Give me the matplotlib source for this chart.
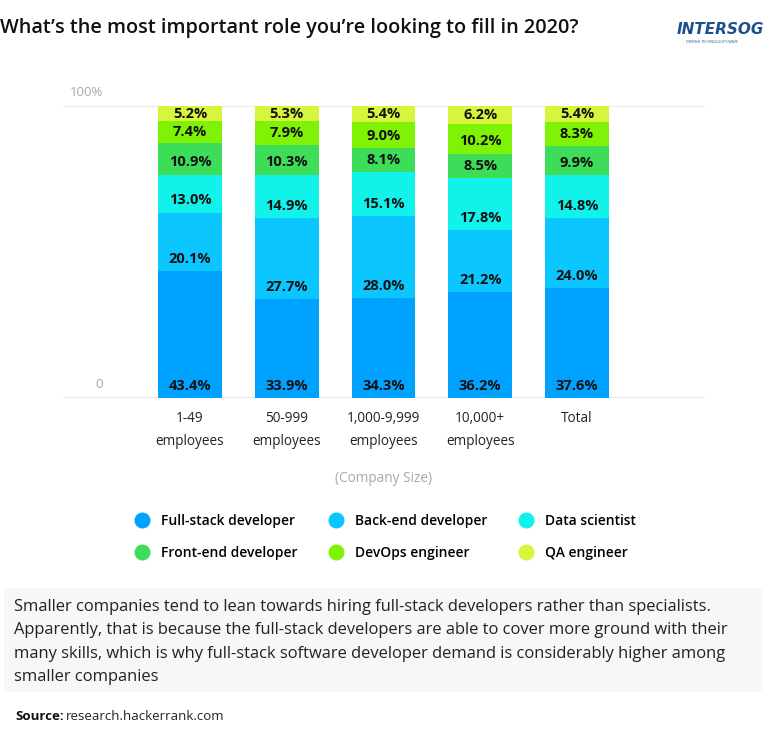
import numpy as np
import matplotlib
matplotlib.use("Agg")
import matplotlib.pyplot as plt
from matplotlib.lines import Line2D
from matplotlib.patches import FancyBboxPatch

# ------------------------------------------------------------------
# Data (percent of respondents per company size)
# ------------------------------------------------------------------
categories = ["1-49\nemployees", "50-999\nemployees", "1,000-9,999\nemployees",
              "10,000+\nemployees", "Total"]
roles = ["Full-stack developer", "Back-end developer", "Data scientist",
         "Front-end developer", "DevOps engineer", "QA engineer"]
full_stack = [43.4, 33.9, 34.3, 36.2, 37.6]
back_end = [20.1, 27.7, 28.0, 21.2, 24.0]
data_scientist = [13.0, 14.9, 15.1, 17.8, 14.8]
front_end = [10.9, 10.3, 8.1, 8.5, 9.9]
devops = [7.4, 7.9, 9.0, 10.2, 8.3]
qa = [5.2, 5.3, 5.4, 6.2, 5.4]
series = [full_stack, back_end, data_scientist, front_end, devops, qa]
colors = ["#00A2FF", "#0CC6FF", "#10F2EA", "#3DDD5A", "#7FF205", "#D8F53D"]

FONT = ["Open Sans", "DejaVu Sans"]
plt.rcParams["font.family"] = FONT

W, H = 768, 755
fig = plt.figure(figsize=(W / 100, H / 100), dpi=100)
fig.patch.set_facecolor("white")

# axes placed in pixel terms: x 63..705, y(0)=398, y(100)=106
ax = fig.add_axes([63 / W, 1 - 398 / H, (705 - 63) / W, (398 - 106) / H])
ax.set_xlim(-1.313, 5.323)
ax.set_ylim(0, 100)
for s in ax.spines.values():
    s.set_visible(False)
ax.set_yticks([])

x = np.arange(len(categories))
bottom = np.zeros(len(categories))
for vals, col in zip(series, colors):
    vals = np.array(vals)
    ax.bar(x, vals, bottom=bottom, width=0.66, color=col, zorder=2)
    for xi, b, v in zip(x, bottom, vals):
        ax.text(xi, b + min(v / 2, 4.2), f"{v:.1f}%", ha="center", va="center",
                fontsize=10.5, fontweight="bold", color="#111111", zorder=3)
    bottom += vals

# gridlines and y labels
for yv, lab in [(0, "0"), (100, "100%")]:
    ax.axhline(yv, color="#EBEBEB", lw=1.6, zorder=1)
    ax.text(0.0623, yv + 4.6, lab, transform=ax.get_yaxis_transform(),
            ha="right", va="center", fontsize=9.5, color="#A8A8A8")

ax.set_xticks(x)
ax.set_xticklabels(categories, fontsize=9.8, color="#222222", linespacing=1.75)
ax.tick_params(axis="x", length=0, pad=9)
ax.text(2, -27.7, "(Company Size)", ha="center", va="center",
        fontsize=9.8, color="#A8A8A8")

# legend (row-major order for 3 columns)
handles = [Line2D([0], [0], marker="o", ls="", markersize=10.5,
                  markerfacecolor=c, markeredgecolor=c) for c in colors]
order = [0, 3, 1, 4, 2, 5]
leg = fig.legend([handles[i] for i in order], [roles[i] for i in order],
                 ncol=3, loc="center", bbox_to_anchor=(382 / W, 1 - 537 / H),
                 frameon=False, handletextpad=0.4, columnspacing=1.75,
                 labelspacing=1.3, prop={"size": 10, "weight": "semibold"})

# title
fig.text(0 / W, 1 - 28 / H, "What\u2019s the most important role you\u2019re looking to fill in 2020?",
         ha="left", va="center", fontsize=14.3, fontweight="semibold", color="#111111")

# logo
fig.text(720 / W, 1 - 30 / H, "INTERSOG", ha="center", va="center", fontsize=11,
         fontweight="bold", fontstyle="italic", color="#1D4E8F",
         family=["Liberation Sans Narrow", "DejaVu Sans"])
fig.text(712 / W, 1 - 42 / H, "DRIVING TECHNOLOGY'S WAVE", ha="center", va="center",
         fontsize=2.5, color="#1D4E8F")

# note box
box = FancyBboxPatch((4 / W, 1 - 692 / H), (762 - 4) / W, (692 - 588) / H,
                     boxstyle="round,pad=0,rounding_size=0.006",
                     transform=fig.transFigure, facecolor="#F7F7F7",
                     edgecolor="none", zorder=0)
fig.patches.append(box)
note = ("Smaller companies tend to lean towards hiring full-stack developers rather than specialists.\n"
        "Apparently, that is because the full-stack developers are able to cover more ground with their\n"
        "many skills, which is why full-stack software developer demand is considerably higher among\n"
        "smaller companies")
fig.text(14 / W, 1 - 599 / H, note, ha="left", va="top", fontsize=11.9,
         color="#222222", linespacing=1.62)

# source
fig.text(15 / W, 1 - 717 / H, "Source:", ha="left", va="center", fontsize=9.5,
         fontweight="bold", color="#111111")
fig.text(66 / W, 1 - 717 / H, "research.hackerrank.com", ha="left", va="center",
         fontsize=9.5, color="#222222")

fig.savefig("out.png", dpi=100, facecolor="white")
